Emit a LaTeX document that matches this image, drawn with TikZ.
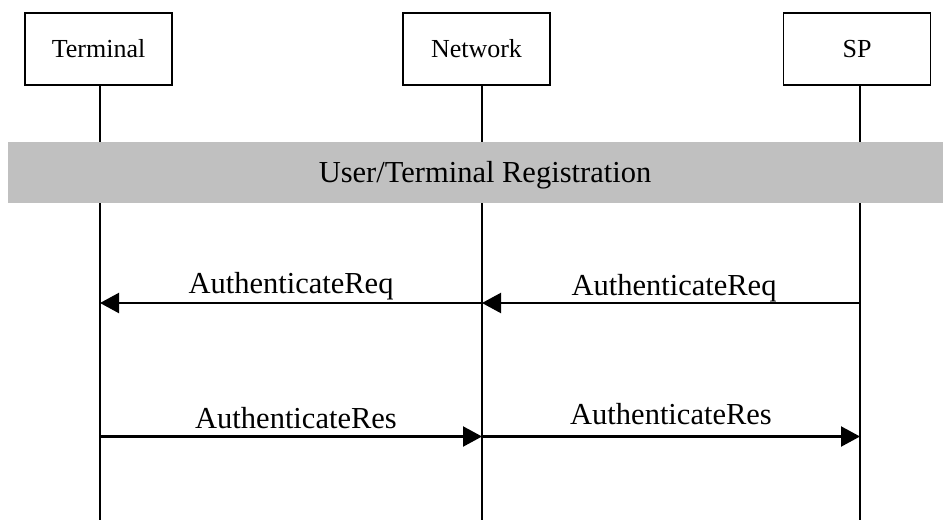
\documentclass[tikz,border=0pt]{standalone}
\usepackage{fontspec}
\setmainfont{Liberation Serif}
\usetikzlibrary{arrows.meta}
\definecolor{cGray}{RGB}{192,192,192}
\tikzset{
  entity/.style={draw, line width=1.3pt, minimum width=147pt, minimum height=72pt,
    inner sep=0pt, font=\fontsize{26}{31}\selectfont},
  life/.style={line width=1.3pt},
  msg/.style={line width=2.2pt, -{Triangle[length=19pt,width=20pt]}},
  msglabel/.style={midway, anchor=base, font=\fontsize{30.5}{36}\selectfont}
}

\begin{document}
\begin{tikzpicture}[x=1pt,y=-1pt]
        \useasboundingbox (0,0) rectangle (943,520);

        \node[entity] (term) at (98.5,49) {Terminal};
        \node[entity] (net) at (476.5,49) {Network};
        \node[entity] (sp) at (857,49) {SP};

        \coordinate (termEnd) at (100,520);
        \coordinate (netEnd) at (482,520);
        \coordinate (spEnd) at (860,520);
        \draw[life] (term.south -| termEnd) -- (termEnd);
        \draw[life] (net.south -| netEnd) -- (netEnd);
        \draw[life] (sp.south -| spEnd) -- (spEnd);

        \fill[cGray] (8,142) rectangle (943,203);
        \node[anchor=base, font=\fontsize{30.5}{36}\selectfont] (reg) at (485,182) {User/Terminal Registration};

        \coordinate (termReq) at (100,303);
        \coordinate (netReq) at (482,303);
        \coordinate (spReq) at (860,303);
        \draw[msg] (netReq) -- (termReq) node[msglabel, yshift=10] (req1) {AuthenticateReq};
        \draw[msg] (spReq) -- (netReq) node[msglabel, yshift=8, xshift=3] (req2) {AuthenticateReq};

        \coordinate (termRes) at (100,436.5);
        \coordinate (netRes) at (482,436.5);
        \coordinate (spRes) at (860,436.5);
        \draw[msg] (termRes) -- (netRes) node[msglabel, yshift=8, xshift=5] (res1) {AuthenticateRes};
        \draw[msg] (netRes) -- (spRes) node[msglabel, yshift=12] (res2) {AuthenticateRes};
    \end{tikzpicture}
\end{document}
